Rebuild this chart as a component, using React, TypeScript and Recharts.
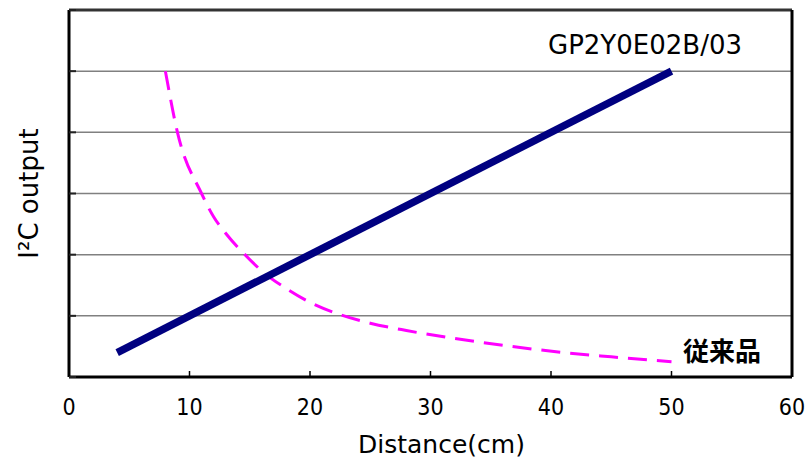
import React from 'react';
import {
  ComposedChart,
  Line,
  XAxis,
  YAxis,
  CartesianGrid,
  ReferenceLine,
  ReferenceDot,
} from 'recharts';

// X (distance, cm) ticks and Y grid levels
const xTicks = [0, 10, 20, 30, 40, 50, 60];
const yTicks = [0, 1, 2, 3, 4, 5, 6];

// GP2Y0E02B/03 (linear output)
const sensorX = [4, 50];
const sensorY = [0.4, 5.0];

// 従来品 (conventional product, dashed)
const convX = [8, 9, 11, 12, 13, 14.6, 16.2, 18, 20, 22.5, 25, 28, 32, 36, 41, 45, 50];
const convY = [5.0, 4.0, 3.0, 2.62, 2.35, 2.0, 1.7, 1.45, 1.22, 1.02, 0.88, 0.76, 0.63, 0.52, 0.4, 0.33, 0.25];

const sensorData = sensorX.map((x, i) => ({ x, y: sensorY[i] }));
const convData = convX.map((x, i) => ({ x, y: convY[i] }));

const LATIN = '"DejaVu Sans", Verdana, sans-serif';
const NARROW = '"Liberation Sans Narrow", "DejaVu Sans Condensed", sans-serif';
const CJK = '"Noto Sans CJK JP", sans-serif';

const XTick = (props: any) => {
  const { x, y, payload } = props;
  return (
    <g>
      <line x1={x} x2={x} y1={y} y2={y - 6} stroke="#000" strokeWidth={1.5} />
      <text x={x} y={y + 38} textAnchor="middle" fontSize={23} fontFamily={NARROW} fill="#000">
        {payload.value}
      </text>
    </g>
  );
};

const YTick = (props: any) => {
  const { x, y } = props;
  return <line x1={x} x2={x + 7} y1={y} y2={y} stroke="#222" strokeWidth={2} />;
};

const XTitle = (props: any) => {
  const vb = props.viewBox;
  return (
    <text
      x={vb.x + vb.width / 2 + 11}
      y={vb.y + 76}
      textAnchor="middle"
      fontSize={25}
      fontFamily={LATIN}
      fill="#000"
    >
      Distance(cm)
    </text>
  );
};

const YTitle = (props: any) => {
  const vb = props.viewBox;
  const cx = vb.x + 38;
  const cy = vb.y + vb.height / 2;
  return (
    <text
      x={cx}
      y={cy}
      transform={`rotate(-90, ${cx}, ${cy})`}
      textAnchor="middle"
      fontSize={26}
      fontFamily={LATIN}
      fill="#000"
    >
      I²C output
    </text>
  );
};

export default function App() {
  return (
    <div style={{ position: 'absolute', left: 0, top: 0, background: '#fff' }}>
      <ComposedChart
        width={805}
        height={459}
        margin={{ top: 10, right: 13, left: 0, bottom: 0 }}
      >
        <CartesianGrid vertical={false} stroke="#808080" strokeWidth={1.5} />
        <XAxis
          type="number"
          dataKey="x"
          domain={[0, 60]}
          ticks={xTicks}
          interval={0}
          allowDataOverflow
          height={82}
          tickSize={0}
          tickMargin={0}
          tickLine={false}
          axisLine={{ stroke: '#000', strokeWidth: 3 }}
          tick={<XTick />}
          label={<XTitle />}
        />
        <YAxis
          type="number"
          dataKey="y"
          domain={[0, 6]}
          ticks={yTicks}
          interval={0}
          width={69}
          tickSize={0}
          tickMargin={0}
          tickLine={false}
          axisLine={{ stroke: '#000', strokeWidth: 3 }}
          tick={<YTick />}
          label={<YTitle />}
        />
        <ReferenceLine y={6} stroke="#333" strokeWidth={3} />
        <ReferenceLine x={60} stroke="#000" strokeWidth={3} />
        <Line
          data={convData}
          dataKey="y"
          type="monotone"
          stroke="#FF00FF"
          strokeWidth={3}
          strokeDasharray="19 10"
          dot={false}
          activeDot={false}
          isAnimationActive={false}
        />
        <Line
          data={sensorData}
          dataKey="y"
          type="linear"
          stroke="#000080"
          strokeWidth={7.5}
          dot={false}
          activeDot={false}
          isAnimationActive={false}
        />
        <ReferenceDot
          x={47.8}
          y={5.43}
          r={1}
          fill="none"
          stroke="none"
          ifOverflow="visible"
          label={{ value: 'GP2Y0E02B/03', position: 'center', fontSize: 26, fontFamily: LATIN, fill: '#000' }}
        />
        <ReferenceDot
          x={54.2}
          y={0.41}
          r={1}
          fill="none"
          stroke="none"
          ifOverflow="visible"
          label={{ value: '従来品', position: 'center', fontSize: 26, fontWeight: 'bold', fontFamily: CJK, fill: '#000' }}
        />
      </ComposedChart>
    </div>
  );
}
